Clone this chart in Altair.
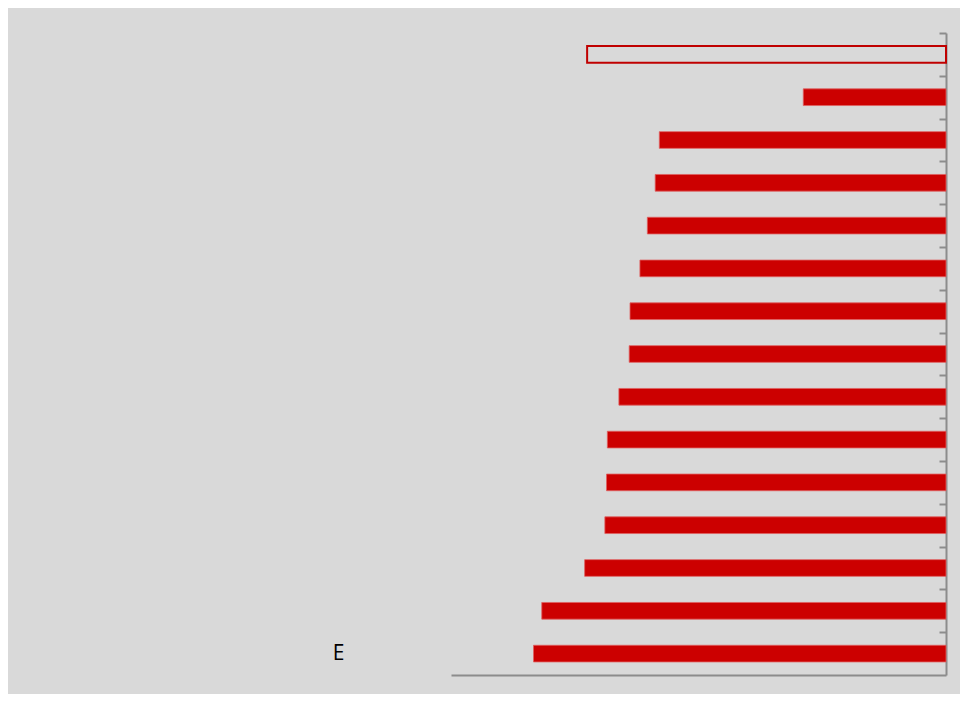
import json
import altair as alt
import pandas as pd

positions = list(range(1, 16))
labels = ["", "", "", "", "", "", "", "", "", "", "", "", "", "", "E"]
values = [-87.0, -34.6, -69.5, -70.5, -72.4, -74.2, -76.6, -76.8,
          -79.3, -82.1, -82.3, -82.7, -87.6, -98.0, -100.0]
filled = [False] + [True] * 14

df = pd.DataFrame({"pos": positions, "label": labels, "value": values, "filled": filled})

RED = "#CC0000"
AXIS = "#8C8C8C"
BG = "#D9D9D9"

W, H = 495, 642
STEP = H / len(positions)

label_expr = json.dumps([""] + labels) + "[datum.value]"

y_enc = alt.Y(
    "pos:O",
    sort=positions,
    scale=alt.Scale(paddingInner=0.61, paddingOuter=0.305),
    axis=alt.Axis(
        orient="left",
        offset=-W,
        title=None,
        domain=True,
        domainColor=AXIS,
        domainWidth=2,
        ticks=True,
        tickOffset=-STEP / 2,
        tickSize=7,
        tickColor=AXIS,
        tickWidth=2,
        labels=True,
        labelOffset=STEP / 2,
        labelExpr=label_expr,
        labelPadding=595,
        labelFont="Open Sans",
        labelFontSize=21,
        labelColor="#000000",
        grid=False,
    ),
)

x_enc = alt.X(
    "value:Q",
    scale=alt.Scale(domain=[-120, 0], nice=False),
    axis=alt.Axis(
        title=None,
        domain=True,
        domainColor=AXIS,
        domainWidth=2,
        ticks=False,
        labels=False,
        grid=False,
    ),
)

base = alt.Chart(df)

solid = base.transform_filter("datum.filled").mark_bar(
    color=RED, stroke="#E06060", strokeWidth=0.8
).encode(x=x_enc, y=y_enc)

outline = base.transform_filter("!datum.filled").mark_bar(
    fill=BG, fillOpacity=0, stroke="#C00000", strokeWidth=2
).encode(x=x_enc, y=y_enc)

chart = (
    alt.layer(solid, outline)
    .properties(
        width=W,
        height=H,
        background=BG,
        padding={"left": 443, "top": 25, "right": 14, "bottom": 19},
        autosize=alt.AutoSizeParams(type="none"),
    )
    .configure_view(stroke=None)
)

chart.save("out.html", embed_options={"renderer": "svg", "actions": False})
